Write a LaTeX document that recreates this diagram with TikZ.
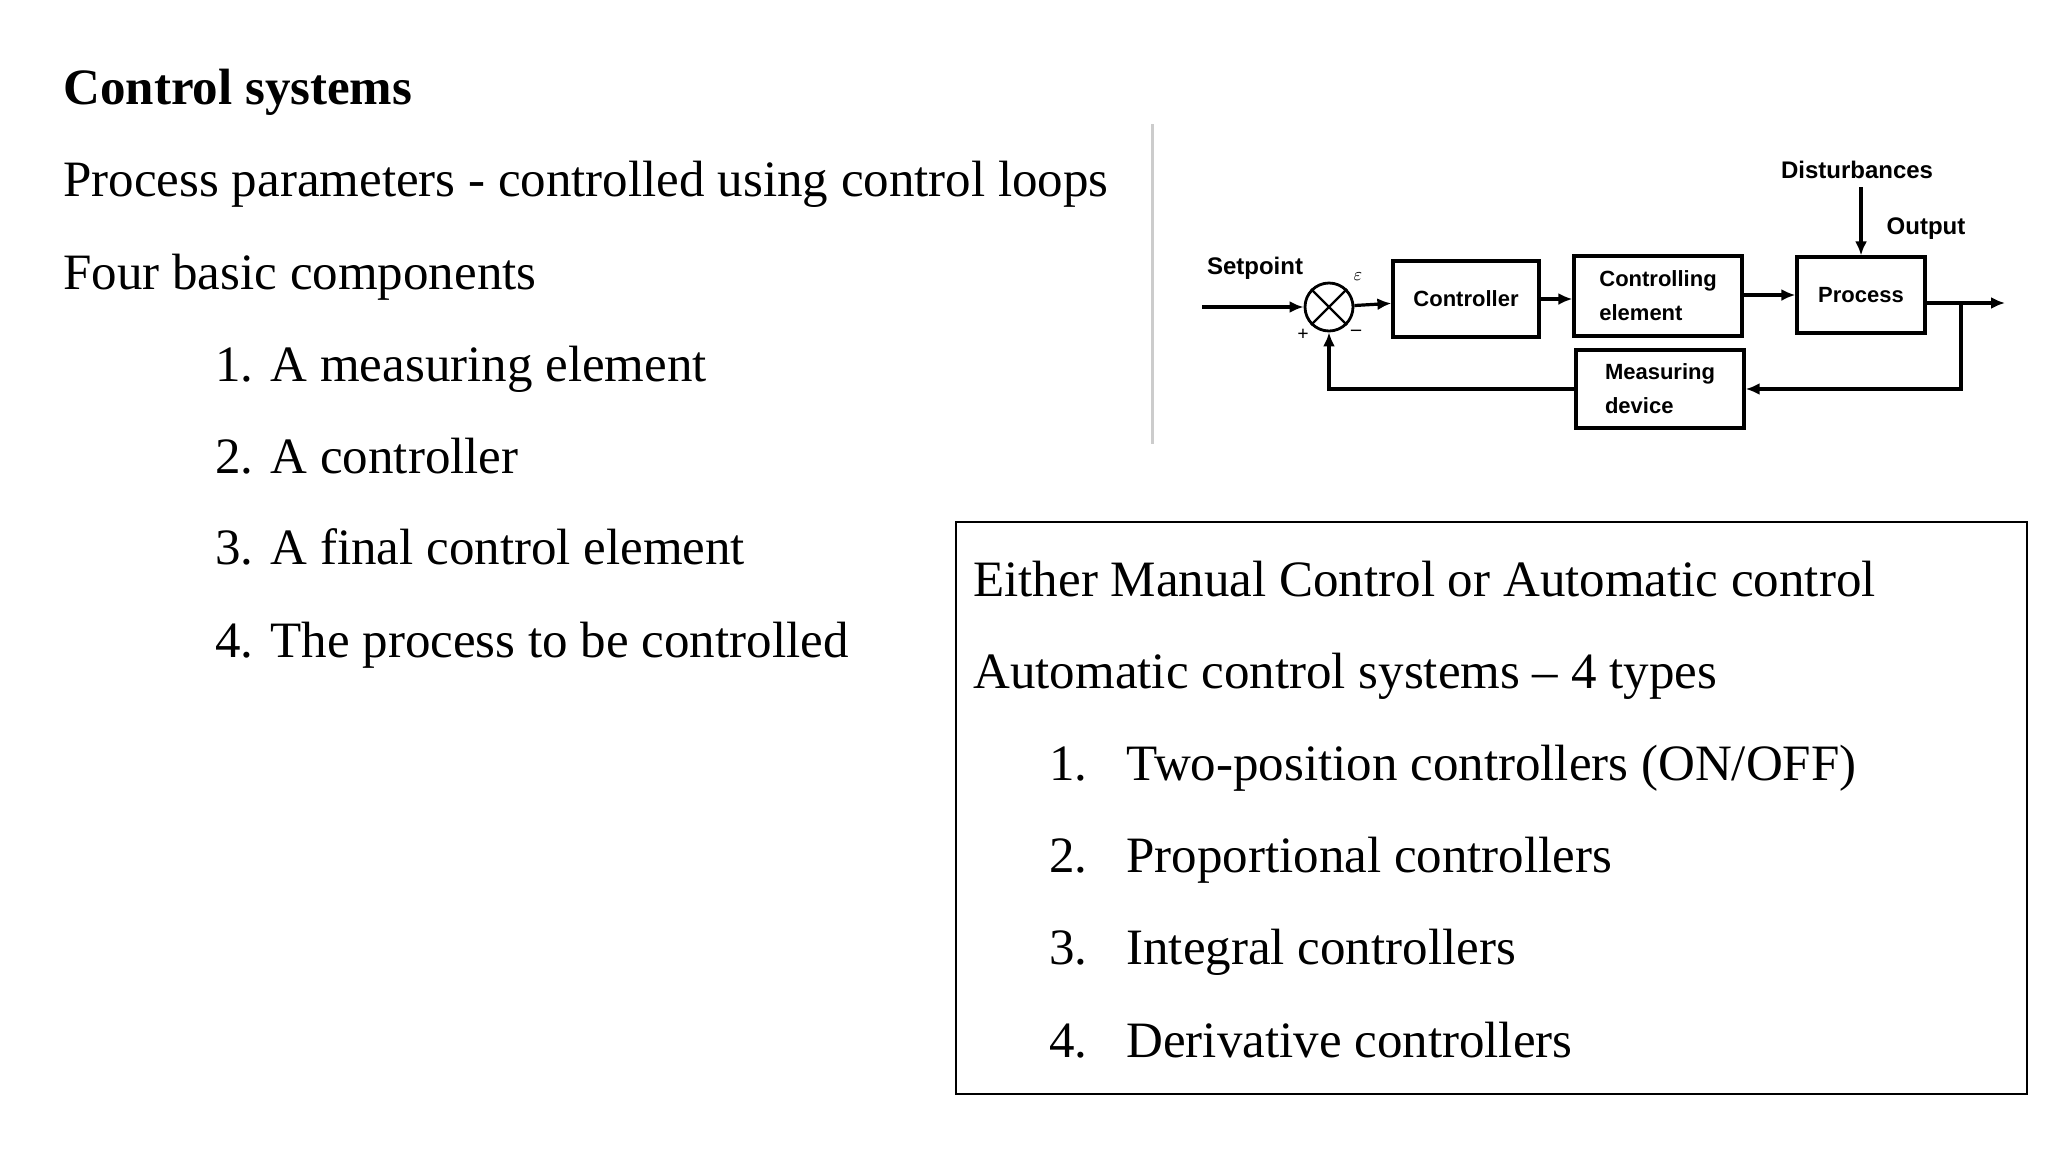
\documentclass[tikz,border=0pt]{standalone}
\usepackage{fontspec}
\setmainfont{Liberation Serif}
\setsansfont{Liberation Sans}
\usetikzlibrary{arrows.meta}
\begin{document}
\begin{tikzpicture}[x=0.5pt,y=-0.5pt,
  txt/.style={anchor=base west,inner sep=0,font=\fontsize{25.5pt}{30pt}\selectfont},
  blk/.style={draw,line width=1.6pt,minimum width=#1,align=left,font=\sffamily\bfseries\fontsize{11pt}{12pt}\selectfont,inner sep=2pt},
  lbl/.style={font=\sffamily\fontsize{12pt}{13pt}\selectfont\bfseries,inner sep=0},
  arr/.style={line width=1.6pt,-{Latex[length=7pt,width=6pt]}}]
\useasboundingbox (0,0) rectangle (2048,1152);
% left text
\node[txt,font=\fontsize{25.5pt}{30pt}\selectfont\bfseries] (t0) at (63,104) {Control systems};
\node[txt] (t1) at (63,196) {Process parameters - controlled using control loops};
\node[txt] (t2) at (63,289) {Four basic components};
\node[txt] (t3) at (215,381) {1. A measuring element};
\node[txt] (t4) at (215,473) {2. A controller};
\node[txt] (t5) at (215,564) {3. A final control element};
\node[txt] (t6) at (215,657) {4. The process to be controlled};
% box
\draw[line width=0.8pt] (956,522) rectangle (2027,1094);
\node[txt] (b1) at (973,596) {Either Manual Control or Automatic control};
\node[txt] (b2) at (973,688) {Automatic control systems -- 4 types};
\node[txt] (n1) at (1049,780) {1.};
\node[txt] (i1) at (1126,780) {Two-position controllers (ON/OFF)};
\node[txt] (n2) at (1049,872) {2.};
\node[txt] (i2) at (1126,872) {Proportional controllers};
\node[txt] (n3) at (1049,964) {3.};
\node[txt] (i3) at (1126,964) {Integral controllers};
\node[txt] (n4) at (1049,1057) {4.};
\node[txt] (i4) at (1126,1057) {Derivative controllers};
% diagram
\draw[gray!40,line width=1.5pt] (1152,124) -- (1152,444);
\node[lbl] (sp) at (1255,268) {Setpoint};
\node[draw,circle,line width=1.4pt,minimum size=24,inner sep=0] (sum) at (1329,307) {};
\draw[line width=1.1pt] (sum.north west) -- (sum.south east) (sum.north east) -- (sum.south west);
\node[font=\fontsize{9pt}{9pt}\selectfont,inner sep=0] (eps) at (1358,277) {$\varepsilon$};
\node[font=\bfseries\fontsize{10pt}{10pt}\selectfont,inner sep=0] (pl) at (1303,335) {+};
\node[font=\bfseries\fontsize{10pt}{10pt}\selectfont,inner sep=0] (mi) at (1356,333) {--};
\node[blk=73,minimum height=38] (ctl) at (1466,299) {Controller};
\node[blk=84,minimum height=40,font=\sffamily\bfseries\fontsize{11pt}{17pt}\selectfont] (ce) at (1658,296) {Controlling\\element};
\node[blk=64,minimum height=38] (pr) at (1861,295) {Process};
\node[blk=84,minimum height=39,font=\sffamily\bfseries\fontsize{11pt}{17pt}\selectfont] (md) at (1660,389) {Measuring\\device};
\node[lbl] (dist) at (1857,170) {Disturbances};
\node[lbl] (out) at (1926,229) {Output};
\coordinate (in) at (1202,307);
\coordinate (end) at (2005,303);
\coordinate (br) at (1961,303);
\draw[arr] (in) -- (sum);
\draw[arr] (sum) -- (ctl);
\draw[arr] (ctl) -- (ce.west |- ctl);
\draw[arr] (ce.east |- pr) -- (pr);
\draw[arr] (pr.east |- end) -- (end);
\draw[arr] (br) |- (md.east);
\draw[arr] (md.west) -| (sum.south);
\draw[arr] (dist.south -| pr.north) ++(0,8) -- (pr.north);
\end{tikzpicture}
\end{document}
